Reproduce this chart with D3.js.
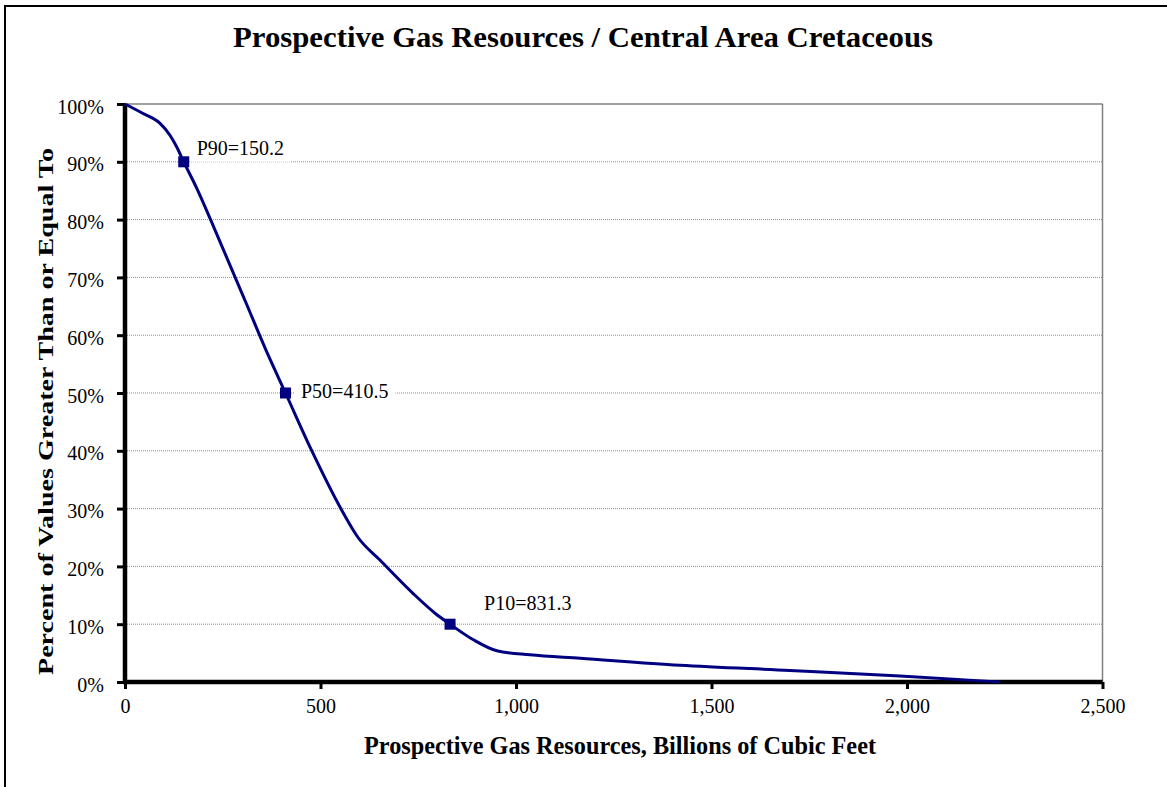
<!DOCTYPE html>
<html><head><meta charset="utf-8">
<script src="https://cdn.jsdelivr.net/npm/d3@7"></script>
<style>body{margin:0;background:#fff}svg{display:block}</style>
</head><body>
<script>
const curveX = [0, 45, 89, 115, 132, 150.2, 183, 239, 307, 360, 410.5, 477, 552, 596, 652, 737, 793, 831.3, 891, 951, 1036, 1164, 1419, 1700, 1982, 2238];
const curveY = [100, 98.4, 96.7, 94.6, 92.6, 90, 85.5, 76.8, 66, 57.5, 50, 40.1, 30, 25, 21.1, 15.3, 11.9, 10, 7.3, 5.4, 4.7, 4.1, 2.9, 2.0, 1.04, 0];
const markerLabels = ["P90=150.2", "P50=410.5", "P10=831.3"];
const markerX = [150.2, 410.5, 831.3];
const markerY = [90, 50, 10];
const xTicks = [0, 500, 1000, 1500, 2000, 2500];
const yTicks = [0, 10, 20, 30, 40, 50, 60, 70, 80, 90, 100];

const W = 1167, H = 787;
const svg = d3.select("body").append("svg").attr("width", W).attr("height", H);
const font = "'Liberation Serif','Times New Roman',serif";
const navy = "#000080";

svg.append("rect").attr("x", 5).attr("y", 6).attr("width", 1175).attr("height", 800)
  .attr("fill", "none").attr("stroke", "#000").attr("stroke-width", 2);

const x = d3.scaleLinear().domain([0, 2500]).range([125, 1102.5]);
const y = d3.scaleLinear().domain([0, 100]).range([682, 104]);

// gridlines
svg.append("g").selectAll("line").data(yTicks.filter(d => d > 0 && d < 100)).join("line")
  .attr("x1", x(0)).attr("x2", x(2500)).attr("y1", d => y(d)).attr("y2", d => y(d))
  .attr("stroke", "#8c8c8c").attr("stroke-width", 1).attr("stroke-dasharray", "1,1");
// plot border top/right
svg.append("line").attr("x1", x(0)).attr("x2", x(2500)).attr("y1", y(100)).attr("y2", y(100))
  .attr("stroke", "#808080").attr("stroke-width", 1.5);
svg.append("line").attr("x1", x(2500)).attr("x2", x(2500)).attr("y1", y(100)).attr("y2", y(0))
  .attr("stroke", "#808080").attr("stroke-width", 1.5);

// axes
const yAxis = svg.append("g").attr("transform", `translate(${x(0)},0)`)
  .call(d3.axisLeft(y).tickValues(yTicks).tickFormat(d => d + "%").tickSize(8).tickPadding(13));
const xAxis = svg.append("g").attr("transform", `translate(0,${y(0)})`)
  .call(d3.axisBottom(x).tickValues(xTicks).tickFormat(d3.format(",")).tickSize(7).tickPadding(10));
[yAxis, xAxis].forEach(g => {
  g.select(".domain").attr("stroke", "#000").attr("stroke-width", 4.5);
  g.selectAll(".tick line").attr("stroke", "#000").attr("stroke-width", 3);
  g.selectAll("text").attr("font-family", font).attr("font-size", 20).attr("fill", "#000");
});
yAxis.selectAll("text").attr("dy", "0.45em");
xAxis.select(".domain").attr("d", `M${x(0) - 2},0H${x(2500)}`);
yAxis.select(".domain").attr("d", `M0,${y(0) + 2}V${y(100)}`);

// label boxes + labels
const labOff = [[13, -7], [15.5, 4.5], [34, -14]];
const labG = svg.append("g");
markerLabels.forEach((t, i) => {
  const tx = labG.append("text")
    .attr("x", x(markerX[i]) + labOff[i][0])
    .attr("y", y(markerY[i]) + labOff[i][1])
    .attr("font-family", font).attr("font-size", 20).attr("fill", "#000")
    .text(t);
  const b = tx.node().getBBox();
  labG.insert("rect", "text").attr("x", b.x - 7).attr("y", b.y - 3)
    .attr("width", b.width + 14).attr("height", b.height + 6).attr("fill", "#fff");
});

// curve
const pts = curveX.map((v, i) => [v, curveY[i]]);
svg.append("path").datum(pts)
  .attr("d", d3.line().x(d => x(d[0])).y(d => y(d[1])).curve(d3.curveMonotoneX))
  .attr("fill", "none").attr("stroke", navy).attr("stroke-width", 3);

// markers
svg.append("g").selectAll("rect").data(markerX).join("rect")
  .attr("x", d => x(d) - 5.5).attr("y", (d, i) => y(markerY[i]) - 5.5)
  .attr("width", 11).attr("height", 11).attr("fill", navy);

// titles
svg.append("text").attr("x", 583).attr("y", 47).attr("text-anchor", "middle")
  .attr("font-family", font).attr("font-size", 29).attr("font-weight", "bold")
  .attr("textLength", 700).attr("lengthAdjust", "spacingAndGlyphs")
  .text("Prospective Gas Resources / Central Area Cretaceous");
svg.append("text").attr("x", 620).attr("y", 754).attr("text-anchor", "middle")
  .attr("font-family", font).attr("font-size", 24.5).attr("font-weight", "bold")
  .attr("textLength", 512).attr("lengthAdjust", "spacingAndGlyphs")
  .text("Prospective Gas Resources, Billions of Cubic Feet");
svg.append("text").attr("transform", `translate(53,411.5) rotate(-90)`).attr("text-anchor", "middle")
  .attr("font-family", font).attr("font-size", 22).attr("font-weight", "bold")
  .attr("textLength", 527).attr("lengthAdjust", "spacingAndGlyphs")
  .text("Percent of Values Greater Than or Equal To");
</script>
</body></html>
